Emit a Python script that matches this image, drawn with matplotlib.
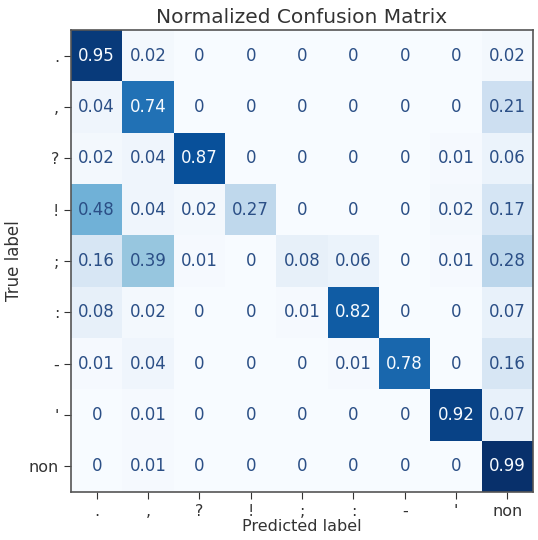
import numpy as np
import matplotlib
matplotlib.use("Agg")
import matplotlib.pyplot as plt

plt.rcParams['font.family'] = ['DejaVu Sans']

labels = [".", ",", "?", "!", ";", ":", "-", "'", "non"]

row_period = [0.95, 0.02, 0, 0, 0, 0, 0, 0, 0.02]
row_comma = [0.04, 0.74, 0, 0, 0, 0, 0, 0, 0.21]
row_question = [0.02, 0.04, 0.87, 0, 0, 0, 0, 0.01, 0.06]
row_exclaim = [0.48, 0.04, 0.02, 0.27, 0, 0, 0, 0.02, 0.17]
row_semicolon = [0.16, 0.39, 0.01, 0, 0.08, 0.06, 0, 0.01, 0.28]
row_colon = [0.08, 0.02, 0, 0, 0.01, 0.82, 0, 0, 0.07]
row_dash = [0.01, 0.04, 0, 0, 0, 0.01, 0.78, 0, 0.16]
row_quote = [0, 0.01, 0, 0, 0, 0, 0, 0.92, 0.07]
row_non = [0, 0.01, 0, 0, 0, 0, 0, 0, 0.99]

cm = np.array([row_period, row_comma, row_question, row_exclaim, row_semicolon,
               row_colon, row_dash, row_quote, row_non])

fig = plt.figure(figsize=(5.38, 5.40), dpi=100)
ax = fig.add_axes([71 / 538, 48 / 540, 462 / 538, 462 / 540])

cmap = plt.cm.Blues
ax.imshow(cm, cmap=cmap, interpolation="nearest", aspect="auto",
          vmin=cm.min(), vmax=cm.max())

thresh = (cm.max() + cm.min()) / 2.0
for i in range(cm.shape[0]):
    for j in range(cm.shape[1]):
        v = cm[i, j]
        txt = "0" if v == 0 else "%g" % v
        color = cmap(0.0) if v > thresh else "#2b4f86"
        ax.text(j, i, txt, ha="center", va="center", color=color, fontsize=12)

ax.set_xticks(range(len(labels)))
ax.set_yticks(range(len(labels)))
ax.set_xticklabels(labels, fontsize=11.5, color="#333333")
ax.set_yticklabels(labels, fontsize=11.5, color="#333333")
ax.tick_params(length=5, color="#333333")
ax.set_xlabel("Predicted label", fontsize=11.5, color="#333333", labelpad=0)
ax.set_ylabel("True label", fontsize=12, color="#333333", labelpad=4)
ax.set_title("Normalized Confusion Matrix", fontsize=14.5, color="#333333", pad=5)
for s in ax.spines.values():
    s.set_color("#555555")
    s.set_linewidth(1.2)

fig.savefig("out.png", dpi=100)
